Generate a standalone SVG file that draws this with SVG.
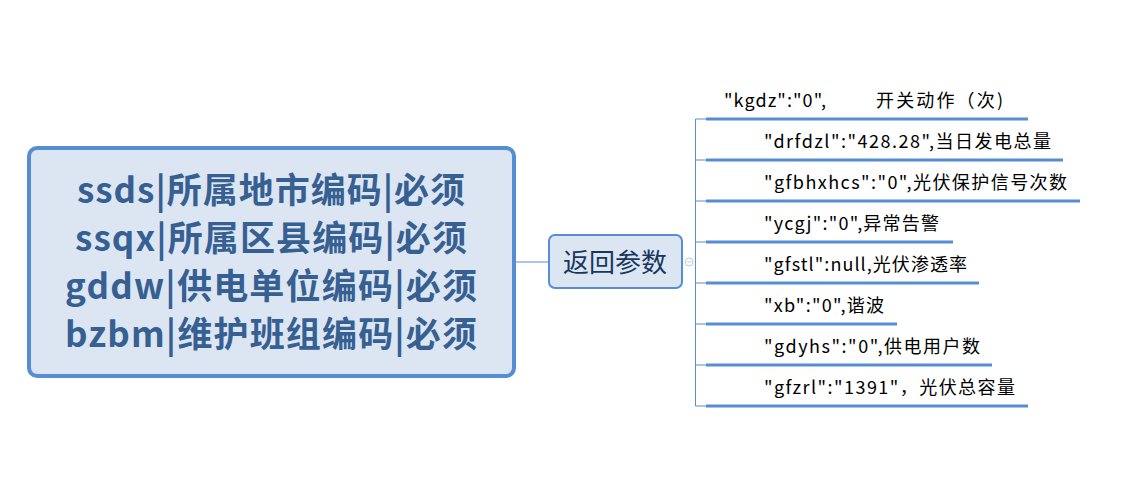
<svg xmlns="http://www.w3.org/2000/svg" width="1146" height="491" viewBox="0 0 1146 491">
<style>
.main{fill:#dce6f2;stroke:#558ed5;stroke-width:4}
.sub{fill:#dce6f2;stroke:#558ed5;stroke-width:2}
.mt{font-family:"Noto Sans CJK SC","Noto Sans",sans-serif;font-weight:bold;font-size:35px;fill:#366092;text-anchor:middle}
.st{font-family:"Noto Sans CJK SC","Noto Sans",sans-serif;font-size:26px;fill:#17375e;text-anchor:middle}
.lt{font-family:"Noto Sans CJK SC","Noto Sans",sans-serif;font-size:18px;fill:#000}
.ul{stroke:#558ed5;stroke-width:3;fill:none}
.cn{stroke:#558ed5;stroke-width:1;fill:none}
</style>
<rect width="1146" height="491" fill="#fff"/>
<g id="connectors">
<path class="cn" d="M515 262 H549"/>
<path class="cn" d="M695.5 119 V406"/>
<path class="cn" d="M695.5 119 H706 M695.5 160 H706 M695.5 201 H706 M695.5 242 H706 M695.5 283 H706 M695.5 324 H706 M695.5 365 H706 M695.5 406 H706"/>
<circle cx="689" cy="262" r="4" fill="#fff" stroke="#b8c9e6" stroke-width="1"/>
<path d="M686.5 262 H691.5" stroke="#b8c9e6" stroke-width="1"/>
</g>
<g id="main">
<rect class="main" x="29" y="148" width="485" height="228" rx="8"/>
<text class="mt" x="271" y="203" textLength="388" lengthAdjust="spacing">ssds|所属地市编码|必须</text>
<text class="mt" x="271" y="251" textLength="392" lengthAdjust="spacing">ssqx|所属区县编码|必须</text>
<text class="mt" x="271" y="299" textLength="412" lengthAdjust="spacing">gddw|供电单位编码|必须</text>
<text class="mt" x="271" y="347" textLength="412" lengthAdjust="spacing">bzbm|维护班组编码|必须</text>
</g>
<g id="fanhui">
<rect class="sub" x="549" y="235" width="133" height="53" rx="6"/>
<text class="st" x="615" y="272">返回参数</text>
</g>
<g id="kgdz">
<text class="lt" x="724" y="107"><tspan textLength="102" lengthAdjust="spacing">"kgdz":"0",</tspan><tspan x="876" textLength="127" lengthAdjust="spacing">开关动作（次)</tspan></text>
<path class="ul" d="M706 119 H1028"/>
</g>
<g id="drfdzl">
<text class="lt" x="764" y="148" textLength="287" lengthAdjust="spacing">"drfdzl":"428.28",当日发电总量</text>
<path class="ul" d="M706 160 H1063"/>
</g>
<g id="gfbhxhcs">
<text class="lt" x="764" y="189" textLength="303" lengthAdjust="spacing">"gfbhxhcs":"0",光伏保护信号次数</text>
<path class="ul" d="M706 201 H1080"/>
</g>
<g id="ycgj">
<text class="lt" x="764" y="230" textLength="175" lengthAdjust="spacing">"ycgj":"0",异常告警</text>
<path class="ul" d="M706 242 H953"/>
</g>
<g id="gfstl">
<text class="lt" x="764" y="271" textLength="203" lengthAdjust="spacing">"gfstl":null,光伏渗透率</text>
<path class="ul" d="M706 283 H979"/>
</g>
<g id="xb">
<text class="lt" x="764" y="312" textLength="120" lengthAdjust="spacing">"xb":"0",谐波</text>
<path class="ul" d="M706 324 H897"/>
</g>
<g id="gdyhs">
<text class="lt" x="764" y="353" textLength="216" lengthAdjust="spacing">"gdyhs":"0",供电用户数</text>
<path class="ul" d="M706 365 H992"/>
</g>
<g id="gfzrl">
<text class="lt" x="764" y="394" textLength="251" lengthAdjust="spacing">"gfzrl":"1391"，光伏总容量</text>
<path class="ul" d="M706 406 H1028"/>
</g>
</svg>
